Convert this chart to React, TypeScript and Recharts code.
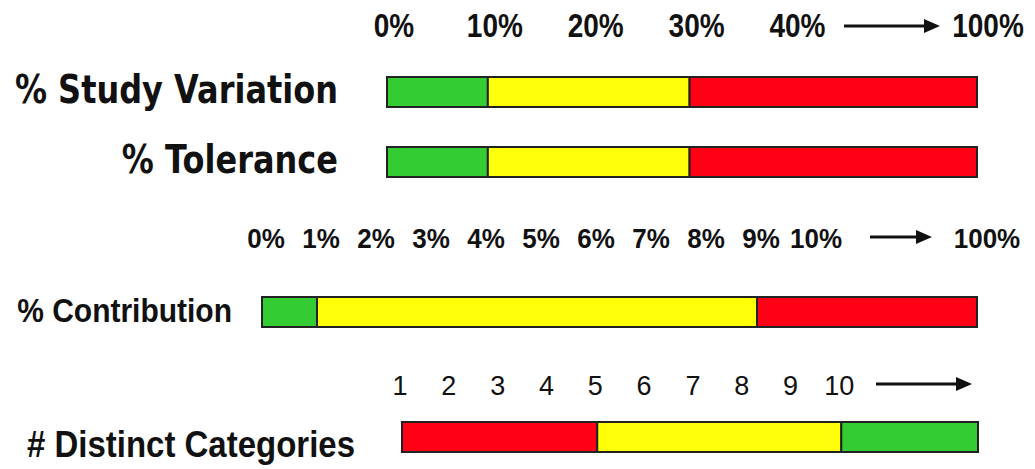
import { Bar, BarChart, XAxis, YAxis } from 'recharts';

// gauge rows and their scales
const studyRows = ['% Study Variation', '% Tolerance'];
const studyTicks = [0, 10, 20, 30, 40, 100];
const studyTickLabels = ['0%', '10%', '20%', '30%', '40%', '100%'];
const studyLimits = [10, 30];

const contributionRows = ['% Contribution'];
const contributionTicks = [0, 1, 2, 3, 4, 5, 6, 7, 8, 9, 10, 100];
const contributionTickLabels = ['0%', '1%', '2%', '3%', '4%', '5%', '6%', '7%', '8%', '9%', '10%', '100%'];
const contributionLimits = [1, 9];

const ndcRows = ['# Distinct Categories'];
const ndcTicks = [1, 2, 3, 4, 5, 6, 7, 8, 9, 10];
const ndcTickLabels = ['1', '2', '3', '4', '5', '6', '7', '8', '9', '10'];
const ndcLimits = [5, 10];

const GREEN = '#33CC33';
const YELLOW = '#FFFF0A';
const RED = '#FF0014';
const INK = '#111111';

interface TextStyle {
    family: string;
    size: number;
    weight: number | string;
    scaleY: number;
}

interface GaugeProps {
    rows: string[];
    ticks: number[];
    tickLabels: string[];
    limits: number[];
    colors: string[];
    endSlot: number;
    lastTickAtEnd: boolean;
    top: number;
    height: number;
    bottomPad: number;
    axisHeight: number;
    plotLeft: number;
    plotRight: number;
    tickMargin: number;
    tickDx: number;
    endDx: number;
    tickFont: TextStyle;
    labelGap: number;
    labelDy: number;
    labelFont: TextStyle;
    arrow: [number, number];
}

function Gauge(p: GaugeProps) {
    // evenly spaced slots per tick; the open end of the scale sits at endSlot
    const slots = p.ticks.map((_, i) =>
        p.lastTickAtEnd && i === p.ticks.length - 1 ? p.endSlot : i,
    );
    const toSlot = (v: number) => {
        for (let i = 0; i < p.ticks.length - 1; i++) {
            if (v >= p.ticks[i] && v <= p.ticks[i + 1]) {
                const t = (v - p.ticks[i]) / (p.ticks[i + 1] - p.ticks[i]);
                return slots[i] + t * (slots[i + 1] - slots[i]);
            }
        }
        return p.endSlot;
    };
    const bounds = [0, ...p.limits.map(toSlot), p.endSlot];
    const data = p.rows.map((name) => ({
        name,
        s0: bounds[1] - bounds[0],
        s1: bounds[2] - bounds[1],
        s2: bounds[3] - bounds[2],
    }));
    const axisTicks = p.lastTickAtEnd ? slots : [...slots, p.endSlot];

    const XTick = (props: any) => {
        const { x, y, payload } = props;
        const i = axisTicks.indexOf(payload.value);
        const label = p.tickLabels[i] ?? '';
        const isEnd = payload.value === p.endSlot;
        const ay = y - 11;
        const [a0, a1] = p.arrow;
        return (
            <g>
                {label && (
                    <text
                        transform={`translate(${x + (isEnd ? p.endDx : p.tickDx)}, ${y}) scale(1, ${p.tickFont.scaleY})`}
                        textAnchor="middle"
                        fontFamily={p.tickFont.family}
                        fontSize={p.tickFont.size}
                        fontWeight={p.tickFont.weight}
                        fill={INK}
                    >
                        {label}
                    </text>
                )}
                {isEnd && (
                    <g>
                        <line x1={x - a0} x2={x - a1 - 12} y1={ay} y2={ay} stroke={INK} strokeWidth={3} />
                        <polygon
                            points={`${x - a1},${ay} ${x - a1 - 16},${ay - 7} ${x - a1 - 16},${ay + 7}`}
                            fill={INK}
                        />
                    </g>
                )}
            </g>
        );
    };

    const YTick = (props: any) => {
        const { x, y, payload } = props;
        return (
            <text
                transform={`translate(${x}, ${y + p.labelDy}) scale(1, ${p.labelFont.scaleY})`}
                textAnchor="end"
                fontFamily={p.labelFont.family}
                fontSize={p.labelFont.size}
                fontWeight={p.labelFont.weight}
                fill={INK}
            >
                {payload.value}
            </text>
        );
    };

    return (
        <div style={{ position: 'absolute', left: 0, top: p.top }}>
            <BarChart
                width={1035}
                height={p.height}
                data={data}
                layout="vertical"
                barSize={30}
                margin={{ top: 0, right: 1035 - p.plotRight, bottom: p.bottomPad, left: 0 }}
            >
                <XAxis
                    type="number"
                    orientation="top"
                    domain={[0, p.endSlot]}
                    ticks={axisTicks}
                    interval={0}
                    height={p.axisHeight}
                    axisLine={false}
                    tickLine={false}
                    tickSize={0}
                    tickMargin={p.tickMargin}
                    tick={XTick}
                />
                <YAxis
                    type="category"
                    dataKey="name"
                    width={p.plotLeft}
                    axisLine={false}
                    tickLine={false}
                    tickSize={0}
                    tickMargin={p.labelGap}
                    tick={YTick}
                />
                {['s0', 's1', 's2'].map((key, i) => (
                    <Bar
                        key={key}
                        dataKey={key}
                        stackId="gauge"
                        fill={p.colors[i]}
                        stroke="#222222"
                        strokeWidth={2}
                        isAnimationActive={false}
                    />
                ))}
            </BarChart>
        </div>
    );
}

const boldSans = 'Liberation Sans, Arial, sans-serif';
const wideSans = 'DejaVu Sans, Verdana, sans-serif';

export default function App() {
    return (
        <div style={{ position: 'absolute', left: 0, top: 0, width: 1035, height: 469, background: '#fff', overflow: 'hidden' }}>
            <Gauge
                rows={studyRows}
                ticks={studyTicks}
                tickLabels={studyTickLabels}
                limits={studyLimits}
                colors={[GREEN, YELLOW, RED]}
                endSlot={5.85}
                lastTickAtEnd
                top={0}
                height={197}
                bottomPad={0}
                axisHeight={57}
                plotLeft={387}
                plotRight={977}
                tickMargin={20}
                tickDx={7}
                endDx={11}
                tickFont={{ family: boldSans, size: 28, weight: 700, scaleY: 1.2 }}
                labelGap={49}
                labelDy={11}
                labelFont={{ family: wideSans, size: 32, weight: 700, scaleY: 1.2 }}
                arrow={[133, 37]}
            />
            <Gauge
                rows={contributionRows}
                ticks={contributionTicks}
                tickLabels={contributionTickLabels}
                limits={contributionLimits}
                colors={[GREEN, YELLOW, RED]}
                endSlot={13}
                lastTickAtEnd
                top={200}
                height={142}
                bottomPad={0}
                axisHeight={82}
                plotLeft={262}
                plotRight={977}
                tickMargin={34}
                tickDx={4}
                endDx={10}
                tickFont={{ family: boldSans, size: 26, weight: 700, scaleY: 1.08 }}
                labelGap={30}
                labelDy={10}
                labelFont={{ family: boldSans, size: 30, weight: 700, scaleY: 1.1 }}
                arrow={[107, 45]}
            />
            <Gauge
                rows={ndcRows}
                ticks={ndcTicks}
                tickLabels={ndcTickLabels}
                limits={ndcLimits}
                colors={[RED, YELLOW, GREEN]}
                endSlot={11.8}
                lastTickAtEnd={false}
                top={345}
                height={124}
                bottomPad={2}
                axisHeight={61}
                plotLeft={402}
                plotRight={978}
                tickMargin={11}
                tickDx={-2}
                endDx={0}
                tickFont={{ family: boldSans, size: 27, weight: 400, scaleY: 1.05 }}
                labelGap={47}
                labelDy={20}
                labelFont={{ family: boldSans, size: 33, weight: 700, scaleY: 1.12 }}
                arrow={[102, 6]}
            />
        </div>
    );
}
